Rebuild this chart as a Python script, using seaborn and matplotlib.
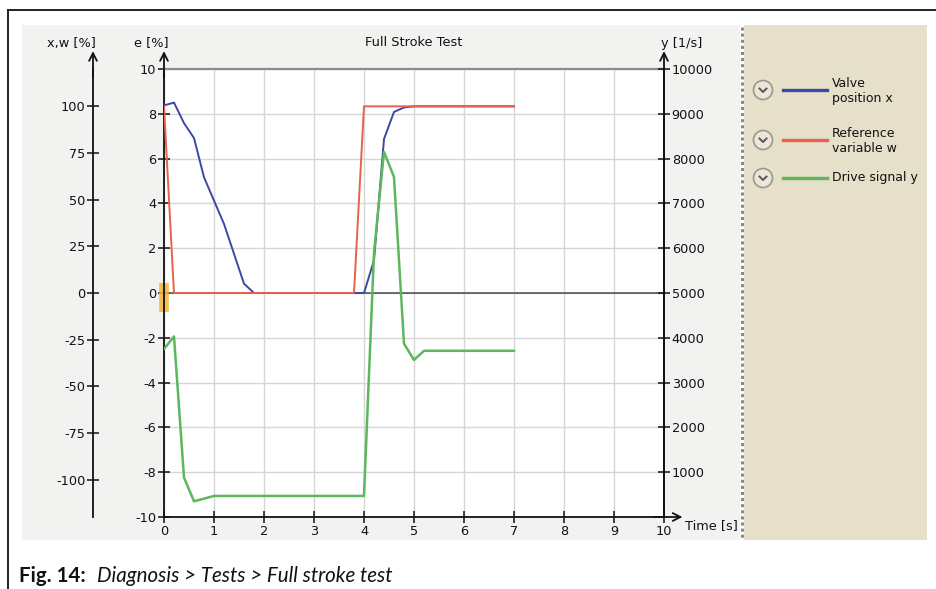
import numpy as np
import pandas as pd
import matplotlib
matplotlib.use("Agg")
import matplotlib.pyplot as plt
import seaborn as sns
from matplotlib.lines import Line2D
from matplotlib.patches import Rectangle, Ellipse

# ---------------- data ----------------
time_x = [0.0, 0.2, 0.4, 0.6, 0.8, 1.2, 1.6, 1.8, 4.0, 4.2, 4.4, 4.6, 4.8, 5.0, 7.0]
valve_x = [100.5, 102.0, 91.0, 83.0, 62.0, 37.0, 5.0, 0.0, 0.0, 17.5, 82.5, 97.0, 99.4, 100.0, 100.0]

time_w = [0.0, 0.2, 3.8, 4.0, 7.0]
ref_w = [100.0, 0.0, 0.0, 100.0, 100.0]

time_y = [0.0, 0.2, 0.4, 0.6, 1.0, 4.0, 4.2, 4.4, 4.6, 4.8, 5.0, 5.2, 7.0]
drive_y = [3750, 4030, 880, 350, 470, 470, 5900, 8150, 7590, 3870, 3505, 3710, 3710]

x_ticks = list(range(0, 11))
e_ticks = list(range(-10, 11, 2))
xw_ticks = [-100, -75, -50, -25, 0, 25, 50, 75, 100]
y_ticks = [1000, 2000, 3000, 4000, 5000, 6000, 7000, 8000, 9000, 10000]
cursor_e = [-0.85, 0.45]

legend_labels = ["Valve\nposition x", "Reference\nvariable w", "Drive signal y"]
colors = ["#3b48a6", "#e8604f", "#5cb85c"]

# ---------------- figure ----------------
W, H = 936, 589
plt.rcParams["font.family"] = ["DejaVu Sans"]
plt.rcParams["axes.unicode_minus"] = False
fig = plt.figure(figsize=(W / 100, H / 100), dpi=100)

def fx(px):
    return px / W

def fy(py):
    return 1 - py / H

# screen background
fig.add_artist(Rectangle((fx(22), fy(540)), fx(740) - fx(22), fy(25) - fy(540),
                         transform=fig.transFigure, facecolor="#f2f2f0", edgecolor="none", zorder=0))
fig.add_artist(Rectangle((fx(744), fy(540)), fx(927) - fx(744), fy(25) - fy(540),
                         transform=fig.transFigure, facecolor="#e6dfc9", edgecolor="none", zorder=0))
fig.add_artist(Line2D([fx(742), fx(742)], [fy(27), fy(540)], transform=fig.transFigure,
                      color="#8a8a80", lw=2.2, ls=(0, (1, 1)), zorder=1))
# outer frame
fig.add_artist(Line2D([fx(8), fx(936)], [fy(10), fy(10)], transform=fig.transFigure, color="#222", lw=1.4))
fig.add_artist(Line2D([fx(8), fx(8)], [fy(10), fy(589)], transform=fig.transFigure, color="#222", lw=1.4))

# main axes (e [%])
ax = fig.add_axes([fx(164), fy(517), fx(664) - fx(164), fy(69) - fy(517)])
ax.set_facecolor("white")
ax.set_xlim(0, 10)
ax.set_ylim(-10, 10)
ax.set_xticks(x_ticks)
ax.set_yticks(e_ticks)
ax.grid(True, color="#d6d6d6", lw=1.0)
ax.set_axisbelow(True)
ax.axhline(0, color="#555555", lw=1.2, zorder=1)
ax.tick_params(axis="both", direction="inout", length=9, width=1.1, labelsize=9.3, colors="#111", pad=1)
for s in ["left", "bottom", "right"]:
    ax.spines[s].set_color("#111")
    ax.spines[s].set_linewidth(1.3)
ax.spines["top"].set_color("#8c8c8c")
ax.spines["top"].set_linewidth(1.6)
ax.spines["right"].set_visible(False)
ax.plot([0, 0], cursor_e, color="#f5b43a", lw=7, alpha=0.85, solid_capstyle="butt", clip_on=False, zorder=2)

# x,w [%] axis
ax_xw = ax.twinx()
ax_xw.set_ylim(-120, 120)
ax_xw.yaxis.tick_left()
ax_xw.spines["left"].set_visible(True)
ax_xw.spines["left"].set_position(("outward", 71 * 0.72))
ax_xw.spines["left"].set_color("#111")
ax_xw.spines["left"].set_linewidth(1.3)
for s in ["right", "top", "bottom"]:
    ax_xw.spines[s].set_visible(False)
ax_xw.set_yticks(xw_ticks)
ax_xw.tick_params(axis="y", direction="inout", length=9, width=1.1, labelsize=9.3, colors="#111", pad=1)

# y [1/s] axis
ax_y = ax.twinx()
ax_y.set_ylim(0, 10000)
ax_y.set_yticks(y_ticks)
for s in ["left", "top", "bottom"]:
    ax_y.spines[s].set_visible(False)
ax_y.spines["right"].set_color("#111")
ax_y.spines["right"].set_linewidth(1.3)
ax_y.tick_params(axis="y", direction="inout", length=9, width=1.1, labelsize=9.3, colors="#111", pad=1)

# lines
sns.lineplot(x=time_x, y=valve_x, ax=ax_xw, color=colors[0], lw=1.4, sort=False)
sns.lineplot(x=time_w, y=ref_w, ax=ax_xw, color=colors[1], lw=1.4, sort=False)
sns.lineplot(x=time_y, y=drive_y, ax=ax_y, color=colors[2], lw=1.8, sort=False)
ax_xw.set_ylabel("")
ax_y.set_ylabel("")

# axis arrows
arrow_kw = dict(arrowstyle="->", lw=1.3, color="#111", mutation_scale=14, shrinkA=0, shrinkB=0)
ax.annotate("", xy=(0, 1.04), xytext=(0, 0.98), xycoords="axes fraction", arrowprops=arrow_kw, annotation_clip=False)
ax.annotate("", xy=(1, 1.04), xytext=(1, 0.0), xycoords="axes fraction", arrowprops=arrow_kw, annotation_clip=False)
ax.annotate("", xy=(1.037, 0), xytext=(0.98, 0), xycoords="axes fraction", arrowprops=arrow_kw, annotation_clip=False)
ax.annotate("", xy=(-0.142, 1.04), xytext=(-0.142, 0.98), xycoords="axes fraction", arrowprops=arrow_kw, annotation_clip=False)

# labels
lab_kw = dict(transform=fig.transFigure, fontsize=9.3, color="#111", ha="center", va="center")
fig.text(fx(71), fy(43), "x,w [%]", **lab_kw)
fig.text(fx(151), fy(43), "e [%]", **lab_kw)
fig.text(fx(414), fy(43), "Full Stroke Test", **lab_kw)
fig.text(fx(682), fy(43), "y [1/s]", **lab_kw)
fig.text(fx(711), fy(526), "Time [s]", **lab_kw)

# legend panel
leg_y = [90, 140, 178]
text_y = [91, 141, 178]
for c, lab, ly, ty in zip(colors, legend_labels, leg_y, text_y):
    fig.add_artist(Ellipse((fx(763), fy(ly)), 19 / W, 19 / H, transform=fig.transFigure,
                           facecolor="#ebe6d8", edgecolor="#9a978d", lw=1.2))
    fig.add_artist(Line2D([fx(759.5), fx(763), fx(766.5)], [fy(ly - 1.5), fy(ly + 2), fy(ly - 1.5)],
                          transform=fig.transFigure, color="#555", lw=1.4))
    fig.add_artist(Line2D([fx(783), fx(827)], [fy(ly), fy(ly)], transform=fig.transFigure, color=c, lw=2.4))
    fig.text(fx(832), fy(ty), lab, transform=fig.transFigure, fontsize=9, color="#111",
             ha="left", va="center", linespacing=1.15)

# caption
fig.text(fx(19), fy(576), "Fig. 14:", transform=fig.transFigure, fontsize=14.8, fontweight="bold",
         family="Lato", ha="left", va="center", color="#111")
fig.text(fx(97), fy(576), "Diagnosis > Tests > Full stroke test", transform=fig.transFigure, fontsize=14.8,
         style="italic", family="Lato", ha="left", va="center", color="#111")

fig.savefig("out.png", dpi=100)
